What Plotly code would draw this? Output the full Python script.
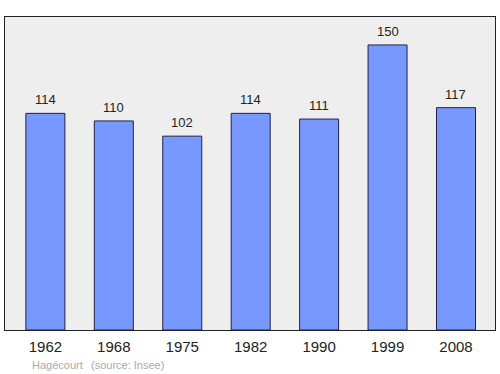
import plotly.graph_objects as go

years = ["1962", "1968", "1975", "1982", "1990", "1999", "2008"]
population = [114, 110, 102, 114, 111, 150, 117]
commune = "Hagécourt"
source = "(source: Insee)"

xpos = list(range(len(years)))
FONT = "Liberation Sans, Arial, sans-serif"

fig = go.Figure()
fig.add_trace(go.Bar(
    x=xpos, y=population, width=0.57,
    marker=dict(color="#7799ff", line=dict(color="#222244", width=1)),
    hoverinfo="skip",
))

for x, v in zip(xpos, population):
    fig.add_annotation(x=x, y=v, text=str(v), showarrow=False,
                       yanchor="bottom", yshift=4,
                       font=dict(family=FONT, size=13, color="#222"))

fig.add_annotation(xref="paper", yref="paper", x=(30 - 5) / 490, y=-(365 - 330) / 313,
                   text=commune, showarrow=False, xanchor="left", yanchor="middle",
                   font=dict(family=FONT, size=11, color="#aaaaaa"))
fig.add_annotation(xref="paper", yref="paper", x=(89 - 5) / 490, y=-(365 - 330) / 313,
                   text=source, showarrow=False, xanchor="left", yanchor="middle",
                   font=dict(family=FONT, size=11, color="#aaaaaa"))

fig.update_layout(
    width=500, height=374,
    margin=dict(l=5, r=5, t=17, b=44),
    paper_bgcolor="white", plot_bgcolor="#eeeeee",
    showlegend=False,
    xaxis=dict(range=[-0.59, 6.57], tickvals=xpos, ticktext=years,
               showgrid=False, zeroline=False, showline=True, mirror=True,
               linecolor="#222", linewidth=1, ticks="", ticklabelstandoff=3,
               tickfont=dict(family=FONT, size=15, color="#222")),
    yaxis=dict(range=[0, 164.7], showticklabels=False, showgrid=False,
               zeroline=False, showline=True, mirror=True,
               linecolor="#222", linewidth=1, ticks=""),
)

fig.write_html("out.html")
